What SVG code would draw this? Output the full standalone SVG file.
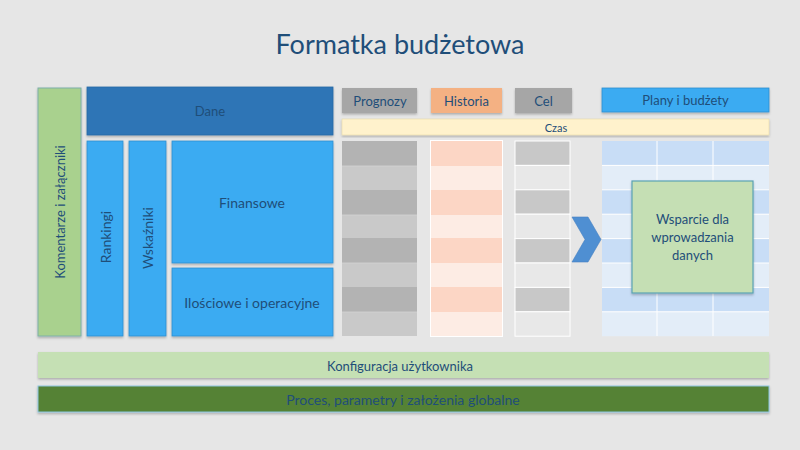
<svg xmlns="http://www.w3.org/2000/svg" width="800" height="450" viewBox="0 0 800 450">
<defs>
<style>
text{font-family:Lato,"Open Sans","Liberation Sans",sans-serif;text-anchor:middle;dominant-baseline:central;fill:#1f4e79}
.lb{fill:#3aabf2;stroke:#2f8fd0;stroke-width:0.8}
.gh{fill:#a6a6a6}
.t13{font-size:13px}
.cg1{fill:#b3b3b3}.cg2{fill:#c9c9c9}
.ch1{fill:#fcd6c5}.ch2{fill:#fdece4}
.cc1{fill:#c8c8c8}.cc2{fill:#e8e8e8}
.cb1{fill:#c8ddf6}.cb2{fill:#e3edf8}
</style>
<filter id="sh" x="-5%" y="-5%" width="110%" height="120%"><feDropShadow dx="0" dy="1.5" stdDeviation="1" flood-color="#000" flood-opacity="0.25"/></filter>
</defs>
<rect width="800" height="450" fill="#e6e6e6"/>
<text x="400" y="43" style="font-size:27px" fill="#1f3d64">Formatka budżetowa</text>

<g id="komentarze"><rect x="38" y="88" width="43" height="248" fill="#a9d18e" stroke="#7fb0a8" stroke-width="1" filter="url(#sh)"/><text class="t13" transform="translate(59.5,212) rotate(-90)">Komentarze i załączniki</text></g>
<g id="dane"><rect x="87" y="87" width="246" height="48" fill="#2e75b6" stroke="#2a6aa5" stroke-width="0.8" filter="url(#sh)"/><text class="t13" x="210" y="111">Dane</text></g>
<g id="rankingi"><rect class="lb" x="87" y="141" width="36" height="195" filter="url(#sh)"/><text style="font-size:14px" transform="translate(105,237) rotate(-90)">Rankingi</text></g>
<g id="wskazniki"><rect class="lb" x="129" y="141" width="37" height="195" filter="url(#sh)"/><text style="font-size:14px" transform="translate(147.5,238) rotate(-90)">Wskaźniki</text></g>
<g id="finansowe"><rect class="lb" x="172" y="141" width="161" height="122" filter="url(#sh)"/><text style="font-size:14px" x="252" y="202">Finansowe</text></g>
<g id="ilosciowe"><rect class="lb" x="172" y="268" width="161" height="68" filter="url(#sh)"/><text style="font-size:14px" x="252" y="302">Ilościowe i operacyjne</text></g>

<g id="prognozy-h"><rect class="gh" x="342" y="88" width="75" height="25" filter="url(#sh)"/><text class="t13" x="380" y="100.5">Prognozy</text></g>
<g id="historia-h"><rect x="431" y="88" width="71" height="25" fill="#f4b183" filter="url(#sh)"/><text class="t13" x="466.5" y="100.5" fill="#2d4a5a">Historia</text></g>
<g id="cel-h"><rect class="gh" x="515" y="88" width="57" height="25" filter="url(#sh)"/><text class="t13" x="543.5" y="100.5">Cel</text></g>
<g id="plany-h"><rect class="lb" x="602" y="88" width="167" height="24" filter="url(#sh)"/><text class="t13" x="685.5" y="100">Plany i budżety</text></g>
<g id="czas"><rect x="342" y="119" width="427" height="16" fill="#fff2cc" stroke="#e6d9a8" stroke-width="0.6" filter="url(#sh)"/><text x="556" y="127" style="font-size:11px">Czas</text></g>

<g id="prognozy-col">
<rect class="cg1" x="342" y="141" width="75" height="25"/><rect class="cg2" x="342" y="166" width="75" height="24"/>
<rect class="cg1" x="342" y="190" width="75" height="25"/><rect class="cg2" x="342" y="215" width="75" height="23"/>
<rect class="cg1" x="342" y="238" width="75" height="25"/><rect class="cg2" x="342" y="263" width="75" height="24"/>
<rect class="cg1" x="342" y="287" width="75" height="25"/><rect class="cg2" x="342" y="312" width="75" height="24"/>
<g stroke="#d4d4d4" stroke-width="0.8"><line x1="342" y1="166" x2="417" y2="166"/><line x1="342" y1="215" x2="417" y2="215"/><line x1="342" y1="263" x2="417" y2="263"/><line x1="342" y1="312" x2="417" y2="312"/></g>
</g>
<g id="historia-col">
<rect x="430" y="140" width="73" height="197" fill="#fff"/>
<rect class="ch1" x="431" y="141" width="71" height="25"/><rect class="ch2" x="431" y="166" width="71" height="24"/>
<rect class="ch1" x="431" y="190" width="71" height="25"/><rect class="ch2" x="431" y="215" width="71" height="23"/>
<rect class="ch1" x="431" y="238" width="71" height="25"/><rect class="ch2" x="431" y="263" width="71" height="24"/>
<rect class="ch1" x="431" y="287" width="71" height="25"/><rect class="ch2" x="431" y="312" width="71" height="24"/>
</g>
<g id="cel-col" stroke="#fff" stroke-width="1">
<rect class="cc1" x="515" y="141" width="55" height="24.4"/><rect class="cc2" x="515" y="165.4" width="55" height="24.4"/>
<rect class="cc1" x="515" y="189.8" width="55" height="24.4"/><rect class="cc2" x="515" y="214.2" width="55" height="24.4"/>
<rect class="cc1" x="515" y="238.6" width="55" height="24.4"/><rect class="cc2" x="515" y="263" width="55" height="24.4"/>
<rect class="cc1" x="515" y="287.4" width="55" height="24.4"/><rect class="cc2" x="515" y="311.8" width="55" height="24.4"/>
</g>
<g id="plany-col">
<rect class="cb1" x="602" y="141" width="167" height="24.4"/><rect class="cb2" x="602" y="165.4" width="167" height="24.4"/>
<rect class="cb1" x="602" y="189.8" width="167" height="24.4"/><rect class="cb2" x="602" y="214.2" width="167" height="24.4"/>
<rect class="cb1" x="602" y="238.6" width="167" height="24.4"/><rect class="cb2" x="602" y="263" width="167" height="24.4"/>
<rect class="cb1" x="602" y="287.4" width="167" height="24.4"/><rect class="cb2" x="602" y="311.8" width="167" height="24.4"/>
<g stroke="#fff" stroke-width="1"><line x1="657" y1="141" x2="657" y2="336"/><line x1="713" y1="141" x2="713" y2="336"/>
<line x1="602" y1="165.4" x2="769" y2="165.4"/><line x1="602" y1="189.8" x2="769" y2="189.8"/><line x1="602" y1="214.2" x2="769" y2="214.2"/><line x1="602" y1="238.6" x2="769" y2="238.6"/><line x1="602" y1="263" x2="769" y2="263"/><line x1="602" y1="287.4" x2="769" y2="287.4"/><line x1="602" y1="311.8" x2="769" y2="311.8"/></g>
</g>
<g id="connectors"><polygon id="chevron" points="572,217 588,217 601,239.5 588,262 572,262 585,239.5" fill="#4f8fd2" stroke="#4682c2" stroke-width="0.6"/></g>
<g id="wsparcie"><rect x="632" y="181" width="121" height="112" fill="#c5dfb4" stroke="#5aa3b3" stroke-width="1.2" filter="url(#sh)"/>
<text class="t13" x="692.5" y="219">Wsparcie dla</text><text class="t13" x="692.5" y="237">wprowadzania</text><text class="t13" x="692.5" y="255">danych</text></g>

<g id="konfiguracja"><rect x="38" y="352" width="731" height="26" fill="#c5e0b4" filter="url(#sh)"/><text class="t13" x="400" y="365.5">Konfiguracja użytkownika</text></g>
<g id="proces"><rect x="38" y="386" width="731" height="26" fill="#548235" stroke="#8fc6e0" stroke-width="1" filter="url(#sh)"/><text x="403" y="399.5" style="font-size:14px" fill="#1f4e5a">Proces, parametry i założenia globalne</text></g>
</svg>
